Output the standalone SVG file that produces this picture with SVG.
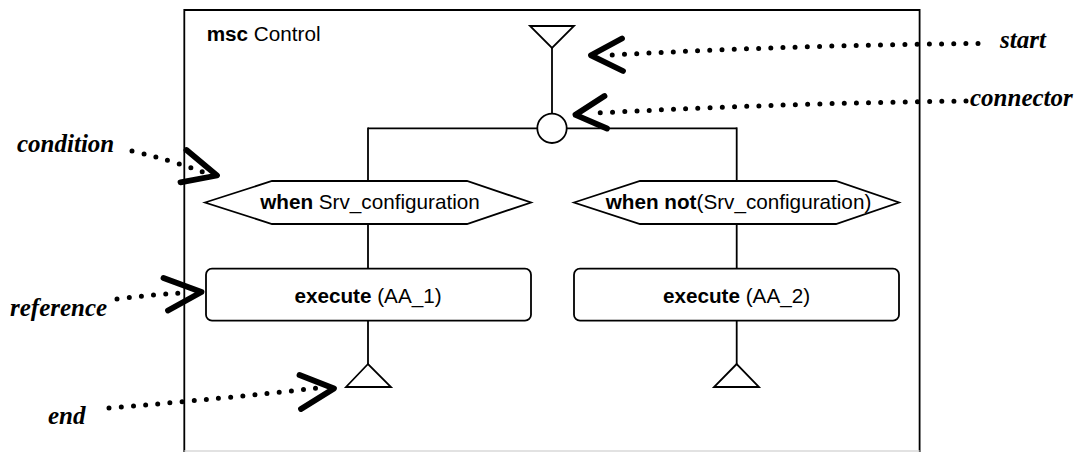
<svg xmlns="http://www.w3.org/2000/svg" width="1086" height="452" viewBox="0 0 1086 452">
  <style>
    .ln { fill: none; stroke: #000; stroke-width: 1.8; }
    .sym { fill: #fff; stroke: #000; stroke-width: 1.8; stroke-linejoin: miter; }
    .lbl { font-family: "Liberation Sans", Arial, sans-serif; font-size: 20.7px; fill: #000; }
    .b { font-weight: bold; }
    .note { font-family: "Liberation Serif", "Times New Roman", serif; font-size: 25px; font-style: italic; font-weight: bold; fill: #000; }
    .dots { fill: none; stroke: #000; stroke-width: 5; stroke-linecap: round; stroke-dasharray: 0 12.2; }
    .chev { fill: none; stroke: #000; stroke-width: 5.8; stroke-linecap: round; stroke-linejoin: round; }
  </style>
  <rect width="1086" height="452" fill="#fff"/>

  <!-- msc frame -->
  <g id="frame">
    <path class="ln" d="M184.3 452 V10 H919.6 V452"/>
    <line x1="184.3" y1="451" x2="919.6" y2="451" stroke="#d8d8d8" stroke-width="1.6"/>
    <text class="lbl" x="206.7" y="40.7"><tspan class="b">msc</tspan> Control</text>
  </g>

  <!-- instance lines between symbols -->
  <g id="connectors">
    <line class="ln" x1="552" y1="48" x2="552" y2="113.6"/>
    <line class="ln" x1="368" y1="128.3" x2="537.3" y2="128.3"/>
    <line class="ln" x1="566.7" y1="128.3" x2="736.7" y2="128.3"/>
    <line class="ln" x1="368" y1="127.4" x2="368" y2="181"/>
    <line class="ln" x1="736.7" y1="127.4" x2="736.7" y2="181"/>
    <line class="ln" x1="368" y1="224" x2="368" y2="268.7"/>
    <line class="ln" x1="736.7" y1="224" x2="736.7" y2="268.7"/>
    <line class="ln" x1="368" y1="320.7" x2="368" y2="364"/>
    <line class="ln" x1="736.7" y1="320.7" x2="736.7" y2="364"/>
  </g>

  <g id="start-symbol">
    <polygon class="sym" points="530,26 574,26 552,48"/>
  </g>

  <g id="connector-symbol">
    <circle class="sym" cx="552" cy="128.3" r="14.7"/>
  </g>

  <g id="condition-left">
    <polygon class="sym" points="205,202.5 272,181 467,181 531,202.5 467,224 272,224"/>
    <text class="lbl" x="370" y="209" text-anchor="middle"><tspan class="b">when</tspan> Srv_configuration</text>
  </g>

  <g id="condition-right">
    <polygon class="sym" points="574,202.5 640,181 836,181 899,202.5 836,224 640,224"/>
    <text class="lbl" x="738.5" y="209" text-anchor="middle"><tspan class="b">when not</tspan>(Srv_configuration)</text>
  </g>

  <g id="reference-left">
    <rect class="sym" x="206" y="268.7" width="325" height="52" rx="6"/>
    <text class="lbl" x="368" y="303.3" text-anchor="middle"><tspan class="b">execute</tspan> (AA_1)</text>
  </g>

  <g id="reference-right">
    <rect class="sym" x="574" y="268.7" width="325" height="52" rx="6"/>
    <text class="lbl" x="736.5" y="303.3" text-anchor="middle"><tspan class="b">execute</tspan> (AA_2)</text>
  </g>

  <g id="end-left">
    <polygon class="sym" points="368,364 346,387 391,387"/>
  </g>

  <g id="end-right">
    <polygon class="sym" points="736.7,364 714,387 759,387"/>
  </g>

  <!-- annotation pointers -->
  <g id="note-start">
    <path class="dots" d="M978 43.5 Q800 45 610 55"/>
    <path class="chev" d="M622 38.5 L591 55.3 L623 71"/>
    <text class="note" x="1000" y="48.3">start</text>
  </g>

  <g id="note-connector">
    <path class="dots" d="M966 101 Q790 103 597 113"/>
    <path class="chev" d="M604.5 96 L575.5 114.8 L607 128.5"/>
    <text class="note" x="970" y="106">connector</text>
  </g>

  <g id="note-condition">
    <path class="dots" d="M132 151 Q170 160 203 172"/>
    <path class="chev" d="M186.5 150 L217 175.5 L180.5 182.3"/>
    <text class="note" x="17" y="152">condition</text>
  </g>

  <g id="note-reference">
    <path class="dots" d="M117 299 Q150 295 180 293"/>
    <path class="chev" d="M163.5 278 L201.5 292 L168 310.5"/>
    <text class="note" x="10" y="316">reference</text>
  </g>

  <g id="note-end">
    <path class="dots" d="M109 408 Q220 399 318 388"/>
    <path class="chev" d="M299.5 375 L334 388.5 L301 409"/>
    <text class="note" x="48" y="424">end</text>
  </g>
</svg>
